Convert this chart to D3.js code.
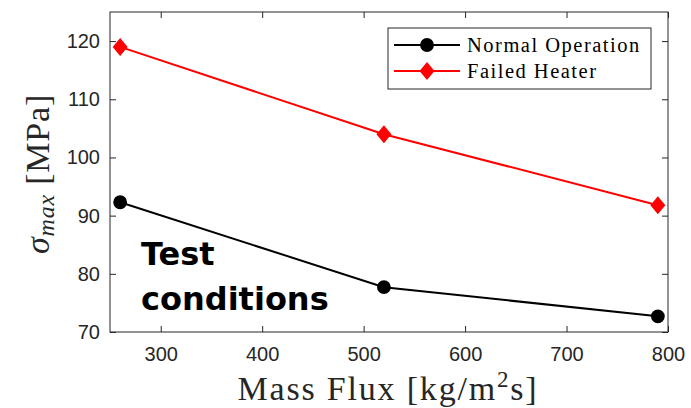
<!DOCTYPE html>
<html><head><meta charset="utf-8">
<script src="https://cdn.jsdelivr.net/npm/d3@7"></script>
<style>body{margin:0;background:#fff}svg{display:block}</style>
</head><body>
<script>
const massFlux = [260, 520, 790];
const normalOperation = [92.3, 77.7, 72.7];
const failedHeater = [119, 104, 91.8];
const xTicks = [300, 400, 500, 600, 700, 800];
const yTicks = [70, 80, 90, 100, 110, 120];
const seriesNames = ["Normal Operation", "Failed Heater"];
const seriesColors = ["#000000", "#ff0000"];

const W = 691, H = 408;
const m = {left: 110, right: 668, top: 12, bottom: 332};
const svg = d3.select("body").append("svg").attr("width", W).attr("height", H);
const x = d3.scaleLinear().domain([250, 800]).range([m.left, m.right]);
const y = d3.scaleLinear().domain([70, 125]).range([m.bottom, m.top]);
const axCol = "#262626";

svg.append("rect").attr("x", m.left).attr("y", m.top).attr("width", m.right - m.left).attr("height", m.bottom - m.top)
  .attr("fill", "none").attr("stroke", axCol).attr("stroke-width", 1);

const tickFont = "Liberation Sans, Arial, sans-serif";
const gx = svg.append("g").attr("transform", `translate(0,${m.bottom})`)
  .call(d3.axisBottom(x).tickValues(xTicks).tickSize(-6).tickPadding(15).tickSizeOuter(0));
const gy = svg.append("g").attr("transform", `translate(${m.left},0)`)
  .call(d3.axisLeft(y).tickValues(yTicks).tickSize(-6).tickPadding(10).tickSizeOuter(0));
const gxt = svg.append("g").attr("transform", `translate(0,${m.top})`)
  .call(d3.axisTop(x).tickValues(xTicks).tickSize(-6).tickFormat("").tickSizeOuter(0));
const gyr = svg.append("g").attr("transform", `translate(${m.right},0)`)
  .call(d3.axisRight(y).tickValues(yTicks).tickSize(-6).tickFormat("").tickSizeOuter(0));
[gx, gy, gxt, gyr].forEach(g => {
  g.select(".domain").remove();
  g.selectAll("line").attr("stroke", axCol);
  g.selectAll("text").attr("fill", axCol).style("font-family", tickFont).style("font-size", "20px");
});

const series = [normalOperation, failedHeater];
const line = d3.line().x((d, i) => x(massFlux[i])).y(d => y(d));
series.forEach((s, k) => {
  svg.append("path").datum(s).attr("d", line).attr("fill", "none")
    .attr("stroke", seriesColors[k]).attr("stroke-width", 2);
});
const circ = d3.symbol().type(d3.symbolCircle).size(150);
function diamond(cx, cy, w, h) {
  return `M${cx},${cy - h}L${cx + w},${cy}L${cx},${cy + h}L${cx - w},${cy}Z`;
}
svg.selectAll(".pt0").data(normalOperation).enter().append("path")
  .attr("d", circ).attr("transform", (d, i) => `translate(${x(massFlux[i])},${y(d)})`).attr("fill", "#000");
svg.selectAll(".pt1").data(failedHeater).enter().append("path")
  .attr("d", (d, i) => diamond(x(massFlux[i]), y(d), 7.5, 9)).attr("fill", "#ff0000");

const serif = "Liberation Serif, serif";
const lg = svg.append("g");
lg.append("rect").attr("x", 388).attr("y", 28).attr("width", 263).attr("height", 61)
  .attr("fill", "#fff").attr("stroke", axCol).attr("stroke-width", 1);
seriesNames.forEach((n, k) => {
  const yy = 45 + k * 26;
  lg.append("line").attr("x1", 394).attr("x2", 460).attr("y1", yy).attr("y2", yy)
    .attr("stroke", seriesColors[k]).attr("stroke-width", 2);
  if (k === 0) lg.append("path").attr("d", circ).attr("transform", `translate(427,${yy})`).attr("fill", "#000");
  else lg.append("path").attr("d", diamond(427, yy, 7.5, 9)).attr("fill", "#ff0000");
  lg.append("text").attr("x", 467).attr("y", yy + 6.5).text(n)
    .style("font-family", serif).style("font-size", "20.5px").style("letter-spacing", "1.5px").attr("fill", "#000");
});

const xl = svg.append("text").attr("x", 388).attr("y", 400).attr("text-anchor", "middle")
  .style("font-family", serif).style("font-size", "34px").style("letter-spacing", "1.8px").attr("fill", axCol);
xl.append("tspan").text("Mass Flux [kg/m");
xl.append("tspan").text("2").attr("dy", -13).style("font-size", "23px");
xl.append("tspan").text("s]").attr("dy", 13);

const yl = svg.append("text").attr("transform", `translate(49,174) rotate(-90)`)
  .attr("text-anchor", "middle").style("font-family", serif).style("font-size", "34px")
  .style("letter-spacing", "0.8px").attr("fill", axCol);
yl.append("tspan").text("σ").style("font-style", "italic");
yl.append("tspan").text("max").attr("dy", 5).style("font-size", "24px").style("font-style", "italic");
yl.append("tspan").text(" [MPa]").attr("dy", -5);

const ann = svg.append("text").style("font-family", "DejaVu Sans, sans-serif").style("font-weight", "bold")
  .style("font-size", "32px").attr("fill", "#000");
ann.append("tspan").attr("x", 141).attr("y", 265).text("Test");
ann.append("tspan").attr("x", 141).attr("y", 310).text("conditions");
</script>
</body></html>
